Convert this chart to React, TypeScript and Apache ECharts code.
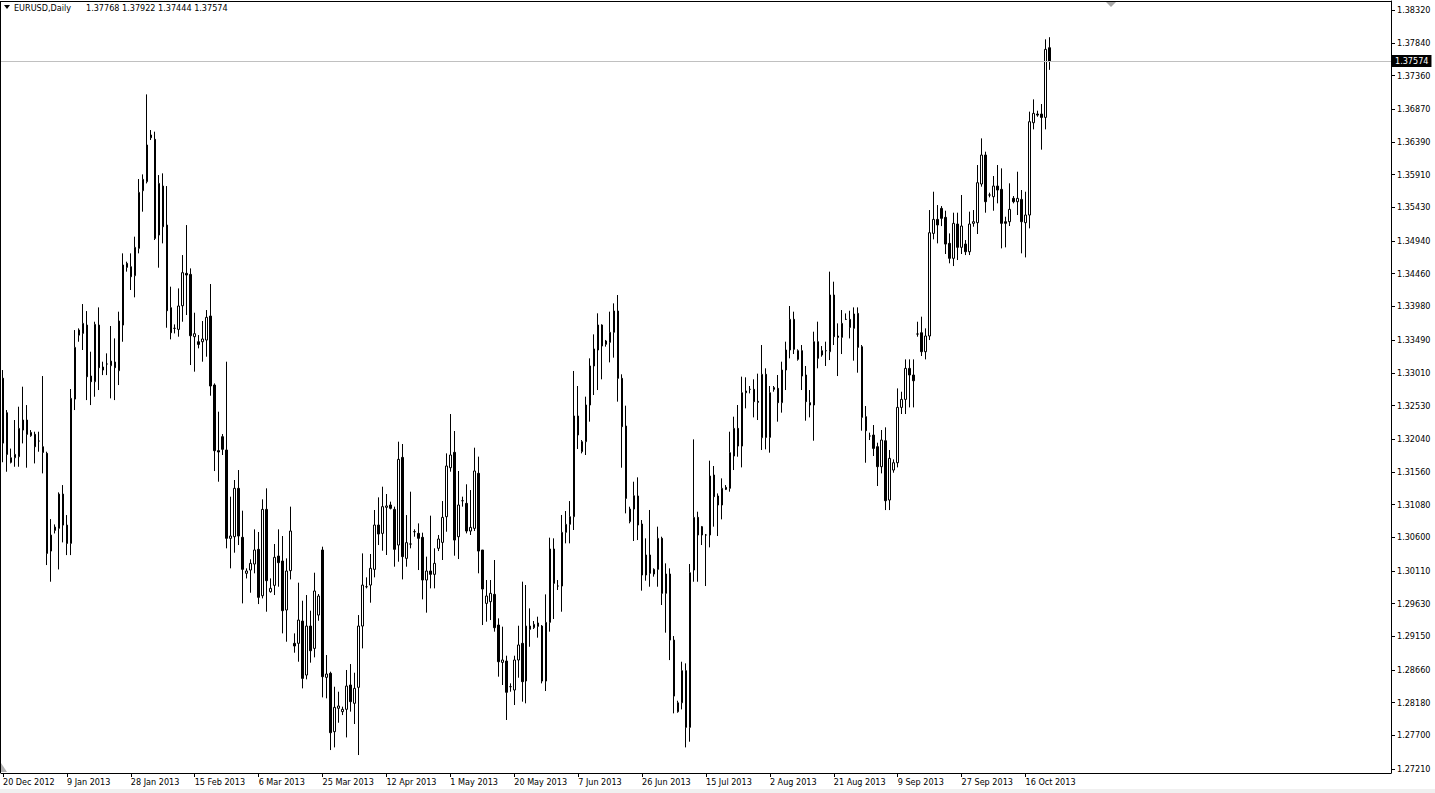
import React, { useEffect, useRef } from "react";
import * as echarts from "echarts";

const symbolName = "EURUSD,Daily";
const headerValues = "1.37768 1.37922 1.37444 1.37574";
const lastPrice = 1.37574;

const dateLabels = [
  "20 Dec 2012", "9 Jan 2013", "28 Jan 2013", "15 Feb 2013", "6 Mar 2013", "25 Mar 2013",
  "12 Apr 2013", "1 May 2013", "20 May 2013", "7 Jun 2013", "26 Jun 2013", "15 Jul 2013",
  "2 Aug 2013", "21 Aug 2013", "9 Sep 2013", "27 Sep 2013", "16 Oct 2013",
];

const yTicks = [
  1.3832, 1.3784, 1.3736, 1.3687, 1.3639, 1.3591, 1.3543, 1.3494, 1.3446, 1.3398, 1.3349, 1.3301,
  1.3253, 1.3204, 1.3156, 1.3108, 1.306, 1.3011, 1.2963, 1.2915, 1.2866, 1.2818, 1.277, 1.2721,
];

const opens = [
  1.3293, 1.32425, 1.31698, 1.31766, 1.31781, 1.32171, 1.32318, 1.32088, 1.32108, 1.3201,
  1.31927, 1.3183, 1.304, 1.30702, 1.30732, 1.31234, 1.3078, 1.30512, 1.32625, 1.3356,
  1.33586, 1.33708, 1.32962, 1.32879, 1.33708, 1.33094, 1.33138, 1.33113, 1.33167, 1.3304,
  1.33708, 1.34611, 1.34562, 1.34431, 1.34831, 1.35675, 1.35807, 1.3649, 1.36427, 1.35026,
  1.35743, 1.35172, 1.33962, 1.3366, 1.33645, 1.33991, 1.34465, 1.3445, 1.33538, 1.33464,
  1.33464, 1.33489, 1.3384, 1.3283, 1.3187, 1.32074, 1.31879, 1.30586, 1.3061, 1.31318,
  1.30601, 1.30074, 1.30122, 1.3021, 1.30425, 1.29746, 1.3101, 1.29805, 1.29898, 1.30327,
  1.30254, 1.29537, 1.30113, 1.29049, 1.29049, 1.29375, 1.28585, 1.29302, 1.28975, 1.29463,
  1.30415, 1.28551, 1.2861, 1.27756, 1.28098, 1.28049, 1.28083, 1.28439, 1.28171, 1.28405,
  1.29302, 1.29878, 1.29902, 1.30132, 1.30781, 1.30659, 1.3104, 1.31074, 1.3101, 1.30488,
  1.31771, 1.30293, 1.30503, 1.30684, 1.30659, 1.30601, 1.29976, 1.30108, 1.30059, 1.3044,
  1.30527, 1.30903, 1.3162, 1.31845, 1.3061, 1.31137, 1.31098, 1.30693, 1.30732, 1.31538,
  1.30415, 1.29634, 1.29659, 1.29766, 1.29317, 1.2877, 1.2879, 1.28415, 1.28366, 1.28805,
  1.29049, 1.28498, 1.29302, 1.29278, 1.29347, 1.29302, 1.28497, 1.29356, 1.3043, 1.29888,
  1.29888, 1.30674, 1.30791, 1.30903, 1.32377, 1.31855, 1.32001, 1.32538, 1.33109, 1.33343,
  1.33709, 1.33426, 1.33455, 1.33602, 1.33914, 1.32928, 1.3223, 1.3083, 1.31015, 1.31206,
  1.30796, 1.30049, 1.30342, 1.30064, 1.30132, 1.30586, 1.29781, 1.30064, 1.29097, 1.28048,
  1.28179, 1.28649, 1.27819, 1.30122, 1.30893, 1.30757, 1.30635, 1.30635, 1.31513, 1.31206,
  1.31074, 1.31332, 1.31318, 1.31791, 1.32196, 1.31937, 1.32743, 1.32767, 1.32767, 1.32592,
  1.32059, 1.32987, 1.32064, 1.32792, 1.32782, 1.32572, 1.3305, 1.33343, 1.33792, 1.33206,
  1.33333, 1.32977, 1.32572, 1.32538, 1.33465, 1.3327, 1.33333, 1.33318, 1.34148, 1.33548,
  1.33528, 1.33791, 1.33791, 1.3366, 1.33879, 1.33391, 1.32367, 1.32084, 1.32098, 1.31928,
  1.31635, 1.32015, 1.31147, 1.31586, 1.31693, 1.32503, 1.3262, 1.33074, 1.32977, 1.33577,
  1.33596, 1.33318, 1.33548, 1.3505, 1.35255, 1.35416, 1.35285, 1.34904, 1.34685, 1.35187,
  1.34846, 1.34894, 1.34782, 1.35197, 1.35207, 1.35773, 1.36197, 1.35612, 1.35587, 1.35743,
  1.35695, 1.35221, 1.35221, 1.35563, 1.35514, 1.35548, 1.35207, 1.35319, 1.3667, 1.36797,
  1.36797, 1.36748, 1.37768,
];

const highs = [
  1.3305, 1.32464, 1.319, 1.32318, 1.32513, 1.32806, 1.32537, 1.32171, 1.32147, 1.32147,
  1.32962, 1.31854, 1.30868, 1.3079, 1.31259, 1.31366, 1.30927, 1.32772, 1.33635, 1.3366,
  1.34016, 1.33913, 1.33318, 1.33757, 1.33967, 1.33172, 1.33294, 1.33694, 1.33513, 1.33904,
  1.34758, 1.34636, 1.34758, 1.35002, 1.35846, 1.35914, 1.37085, 1.36563, 1.36539, 1.35904,
  1.35929, 1.35743, 1.3427, 1.33718, 1.34245, 1.34733, 1.35172, 1.34538, 1.33889, 1.33562,
  1.33767, 1.33928, 1.34309, 1.32854, 1.3244, 1.32113, 1.33172, 1.31196, 1.3144, 1.31586,
  1.30991, 1.30147, 1.30279, 1.30718, 1.30679, 1.31157, 1.31318, 1.3, 1.30503, 1.30718,
  1.3062, 1.30293, 1.3105, 1.29195, 1.29937, 1.29673, 1.29756, 1.29527, 1.30083, 1.29771,
  1.30464, 1.28878, 1.28634, 1.28414, 1.28341, 1.28122, 1.28659, 1.28746, 1.28619, 1.29463,
  1.30366, 1.30015, 1.30357, 1.31001, 1.31186, 1.31342, 1.31235, 1.31123, 1.3105, 1.32001,
  1.31967, 1.30927, 1.31269, 1.30718, 1.30805, 1.30669, 1.30318, 1.30918, 1.3044, 1.30635,
  1.31132, 1.3183, 1.32406, 1.32157, 1.31572, 1.31196, 1.31377, 1.31293, 1.31913, 1.31782,
  1.30415, 1.29976, 1.29976, 1.30269, 1.29415, 1.29293, 1.28868, 1.28463, 1.28868, 1.29307,
  1.29952, 1.29903, 1.29561, 1.29376, 1.29439, 1.29317, 1.29766, 1.30596, 1.30586, 1.29976,
  1.30928, 1.30986, 1.31132, 1.33036, 1.32816, 1.32025, 1.3266, 1.33221, 1.33572, 1.3388,
  1.33719, 1.3349, 1.33904, 1.34026, 1.34148, 1.32987, 1.32528, 1.31049, 1.31415, 1.31479,
  1.30854, 1.30586, 1.31001, 1.30147, 1.30757, 1.3061, 1.3022, 1.30147, 1.29156, 1.28209,
  1.2878, 1.28756, 1.3021, 1.32035, 1.30976, 1.30767, 1.3065, 1.31723, 1.31645, 1.31244,
  1.31464, 1.31366, 1.32147, 1.32367, 1.32538, 1.32953, 1.32943, 1.32816, 1.32914, 1.32997,
  1.33416, 1.33075, 1.32816, 1.32816, 1.32977, 1.33172, 1.33465, 1.33987, 1.33904, 1.33353,
  1.33416, 1.33109, 1.32757, 1.33611, 1.33758, 1.33401, 1.33465, 1.3449, 1.34343, 1.33733,
  1.33928, 1.33879, 1.33918, 1.33967, 1.33967, 1.33416, 1.32523, 1.32133, 1.32245, 1.31986,
  1.32172, 1.32211, 1.31879, 1.31742, 1.32781, 1.32732, 1.33206, 1.33206, 1.33206, 1.33757,
  1.33831, 1.3366, 1.35392, 1.3566, 1.35465, 1.3545, 1.35382, 1.3505, 1.35353, 1.35353,
  1.35612, 1.34953, 1.35368, 1.35392, 1.36051, 1.36441, 1.36246, 1.35646, 1.3589, 1.36051,
  1.36002, 1.35294, 1.35783, 1.35597, 1.35953, 1.35685, 1.3566, 1.36832, 1.37012, 1.36846,
  1.36944, 1.37891, 1.37922,
];

const lows = [
  1.317, 1.31561, 1.31683, 1.31634, 1.31634, 1.31976, 1.3162, 1.32073, 1.31683, 1.31854,
  1.31537, 1.30195, 1.29951, 1.30658, 1.30131, 1.30527, 1.30341, 1.30341, 1.32464, 1.33464,
  1.33343, 1.3261, 1.32537, 1.32659, 1.32757, 1.32976, 1.32976, 1.32635, 1.3261, 1.3283,
  1.33464, 1.3449, 1.34221, 1.34114, 1.34758, 1.35368, 1.35782, 1.36417, 1.34953, 1.34548,
  1.34904, 1.33669, 1.33499, 1.33586, 1.33538, 1.33757, 1.33855, 1.33123, 1.33026, 1.33367,
  1.33172, 1.33245, 1.32674, 1.31571, 1.31415, 1.31806, 1.3044, 1.30147, 1.30376, 1.30488,
  1.29634, 1.29999, 1.2979, 1.30074, 1.29624, 1.29707, 1.29512, 1.2979, 1.29756, 1.29878,
  1.29195, 1.29073, 1.29985, 1.28912, 1.2878, 1.2839, 1.28522, 1.28766, 1.28844, 1.2938,
  1.28258, 1.28244, 1.27487, 1.27526, 1.27887, 1.27999, 1.27672, 1.28049, 1.27868, 1.27414,
  1.28975, 1.29854, 1.29644, 1.30015, 1.30488, 1.30405, 1.30342, 1.3101, 1.30171, 1.30244,
  1.29985, 1.30171, 1.3044, 1.3061, 1.30122, 1.29693, 1.29498, 1.29854, 1.29854, 1.304,
  1.30269, 1.30683, 1.31562, 1.30332, 1.30283, 1.3105, 1.30659, 1.30635, 1.30693, 1.30074,
  1.29317, 1.29366, 1.2939, 1.2922, 1.28561, 1.28439, 1.27927, 1.28341, 1.28146, 1.28546,
  1.28195, 1.28171, 1.28999, 1.29259, 1.29132, 1.28463, 1.28351, 1.2922, 1.29405, 1.2983,
  1.29512, 1.30513, 1.30513, 1.30708, 1.31894, 1.3183, 1.31806, 1.32294, 1.32684, 1.32757,
  1.32914, 1.33392, 1.33162, 1.33231, 1.32587, 1.3162, 1.30952, 1.30806, 1.30547, 1.30561,
  1.2982, 1.29966, 1.29878, 1.30025, 1.29878, 1.2961, 1.29205, 1.28804, 1.28024, 1.28034,
  1.28082, 1.27526, 1.27609, 1.29951, 1.29951, 1.30488, 1.29888, 1.30454, 1.30757, 1.3062,
  1.30864, 1.31293, 1.31269, 1.31586, 1.31781, 1.31625, 1.32489, 1.32708, 1.32357, 1.32318,
  1.31879, 1.31889, 1.3184, 1.32733, 1.32294, 1.32426, 1.32757, 1.33221, 1.33284, 1.33187,
  1.32757, 1.32308, 1.32357, 1.32015, 1.33075, 1.33245, 1.33109, 1.33196, 1.33416, 1.32962,
  1.33284, 1.33782, 1.33513, 1.33187, 1.33011, 1.32162, 1.31693, 1.32025, 1.31791, 1.31352,
  1.31537, 1.31, 1.31, 1.31547, 1.31625, 1.32406, 1.32406, 1.32503, 1.32503, 1.33538,
  1.33255, 1.33206, 1.33489, 1.34963, 1.34904, 1.35157, 1.34748, 1.34612, 1.34572, 1.3466,
  1.34748, 1.34733, 1.34733, 1.35148, 1.35041, 1.35734, 1.35353, 1.35578, 1.35382, 1.3549,
  1.34831, 1.34846, 1.35158, 1.3549, 1.35319, 1.34758, 1.34699, 1.35124, 1.36573, 1.36758,
  1.36276, 1.36573, 1.37444,
];

const closes = [
  1.3198, 1.31815, 1.31766, 1.31815, 1.32196, 1.32318, 1.32108, 1.32137, 1.31927, 1.3201,
  1.31844, 1.30366, 1.30634, 1.30751, 1.31234, 1.3078, 1.30512, 1.32635, 1.33382, 1.33635,
  1.33733, 1.32952, 1.32879, 1.33718, 1.33084, 1.3305, 1.33138, 1.33181, 1.33084, 1.33767,
  1.34587, 1.34553, 1.34416, 1.34846, 1.35651, 1.35841, 1.36344, 1.36451, 1.34977, 1.35782,
  1.35148, 1.33918, 1.33596, 1.3366, 1.33987, 1.34475, 1.34441, 1.33552, 1.33582, 1.33425,
  1.33504, 1.33821, 1.32816, 1.31869, 1.3185, 1.31889, 1.30586, 1.3062, 1.31318, 1.3062,
  1.30132, 1.30108, 1.3022, 1.30415, 1.29722, 1.3101, 1.29966, 1.29854, 1.30308, 1.3023,
  1.29527, 1.30108, 1.30693, 1.2901, 1.2939, 1.28536, 1.29302, 1.28941, 1.29815, 1.29741,
  1.28561, 1.286, 1.27741, 1.28112, 1.28132, 1.28083, 1.28424, 1.28195, 1.2839, 1.29302,
  1.29902, 1.29878, 1.30147, 1.30781, 1.30649, 1.3105, 1.3106, 1.31025, 1.30425, 1.31742,
  1.30318, 1.30523, 1.30503, 1.30684, 1.30586, 1.29976, 1.30108, 1.30059, 1.3022, 1.30576,
  1.30893, 1.31645, 1.31806, 1.30561, 1.31074, 1.31137, 1.30693, 1.30747, 1.31572, 1.304,
  1.29844, 1.29742, 1.29781, 1.29278, 1.2878, 1.28805, 1.28332, 1.28415, 1.28805, 1.29025,
  1.28488, 1.29302, 1.29254, 1.29327, 1.29298, 1.28497, 1.29356, 1.3043, 1.29927, 1.29888,
  1.30674, 1.30791, 1.30903, 1.32377, 1.32099, 1.32001, 1.32538, 1.33109, 1.33358, 1.33709,
  1.33402, 1.33475, 1.33602, 1.33914, 1.32928, 1.32221, 1.31171, 1.31015, 1.3121, 1.30781,
  1.30049, 1.30342, 1.30074, 1.30132, 1.30586, 1.29781, 1.30064, 1.29097, 1.28277, 1.28179,
  1.28649, 1.27819, 1.30083, 1.30893, 1.30635, 1.30635, 1.30635, 1.31498, 1.31196, 1.31074,
  1.31318, 1.31303, 1.3184, 1.32196, 1.31937, 1.32718, 1.32718, 1.32767, 1.32587, 1.32577,
  1.32987, 1.32064, 1.32718, 1.32767, 1.32572, 1.3305, 1.33343, 1.33792, 1.33353, 1.33333,
  1.32962, 1.32587, 1.32538, 1.33465, 1.33221, 1.33333, 1.33333, 1.34148, 1.33538, 1.33528,
  1.33733, 1.33791, 1.33674, 1.3387, 1.33382, 1.32357, 1.32162, 1.32084, 1.31903, 1.31635,
  1.32025, 1.31137, 1.31757, 1.31693, 1.32503, 1.3262, 1.33074, 1.32977, 1.32893, 1.33577,
  1.33318, 1.33548, 1.3506, 1.35255, 1.35173, 1.3527, 1.34894, 1.34685, 1.35197, 1.34846,
  1.35158, 1.34782, 1.35187, 1.35221, 1.35792, 1.36197, 1.35514, 1.35612, 1.35743, 1.35685,
  1.35197, 1.35197, 1.35402, 1.35514, 1.35563, 1.35221, 1.35319, 1.36685, 1.36807, 1.36782,
  1.36748, 1.37744, 1.37574,
];

const FONT = "'DejaVu Sans Condensed', 'DejaVu Sans', sans-serif";
const SLOTS = 348;
const LABEL_STEP = 16;

export default function App() {
  const ref = useRef<HTMLDivElement>(null);

  useEffect(() => {
    if (!ref.current) return;
    const chart = echarts.init(ref.current, null, { renderer: "svg" });
    const isLabel = (i: number) => i % LABEL_STEP === 0 && i / LABEL_STEP < dateLabels.length;
    const cats = Array.from({ length: SLOTS }, (_, i) =>
      isLabel(i) ? dateLabels[i / LABEL_STEP] : "bar" + i
    );
    const data = opens.map((o, i) => [o, closes[i], lows[i], highs[i]]);

    chart.setOption({
      animation: false,
      backgroundColor: "#ffffff",
      grid: { left: -1, right: 44, top: 1, bottom: 20, containLabel: false },
      xAxis: {
        type: "category",
        data: cats,
        boundaryGap: true,
        axisLine: { show: true, lineStyle: { color: "#000", width: 1 } },
        axisTick: {
          show: true,
          alignWithLabel: true,
          length: 4,
          interval: (i: number) => isLabel(i),
          lineStyle: { color: "#000" },
        },
        axisLabel: {
          interval: (i: number) => isLabel(i),
          align: "left",
          margin: 4,
          color: "#000",
          fontSize: 9,
          fontFamily: FONT,
        },
        splitLine: { show: false },
      },
      yAxis: {
        type: "value",
        position: "right",
        min: 1.27151,
        max: 1.38452,
        axisLine: { show: true, lineStyle: { color: "#000", width: 1 } },
        axisTick: { show: true, length: 4, customValues: yTicks, lineStyle: { color: "#000" } },
        axisLabel: {
          customValues: yTicks,
          formatter: (v: number) => v.toFixed(5),
          margin: 6,
          color: "#000",
          fontSize: 9,
          fontFamily: FONT,
        },
        splitLine: { show: false },
      },
      series: [
        {
          type: "line",
          data: [],
          silent: true,
          showSymbol: false,
          z: 1,
          markLine: {
            silent: true,
            symbol: "none",
            precision: 5,
            lineStyle: { color: "#c0c0c0", type: "solid", width: 1 },
            label: {
              show: true,
              position: "end",
              distance: 1,
              formatter: () => lastPrice.toFixed(5),
              backgroundColor: "#000",
              color: "#fff",
              padding: [2, 3, 1, 3],
              fontSize: 9,
              fontFamily: FONT,
            },
            data: [{ yAxis: lastPrice }],
          },
        },
        {
          type: "candlestick",
          data,
          barWidth: 2,
          z: 3,
          itemStyle: {
            color: "#ffffff",
            color0: "#000000",
            borderColor: "#000000",
            borderColor0: "#000000",
            borderColorDoji: "#000000",
            borderWidth: 1,
          },
        },
      ],
      graphic: [
        { type: "line", shape: { x1: 0, y1: 1.5, x2: 1391, y2: 1.5 }, style: { stroke: "#000", lineWidth: 1 }, silent: true },
        { type: "line", shape: { x1: 0.5, y1: 1, x2: 0.5, y2: 773 }, style: { stroke: "#000", lineWidth: 1 }, silent: true },
        { type: "polygon", shape: { points: [[4, 5], [10, 5], [7, 9]] }, style: { fill: "#000" }, silent: true },
        {
          type: "text", x: 14, y: 8,
          style: { text: symbolName, fill: "#000", font: `9px ${FONT}`, verticalAlign: "middle", align: "left" },
          silent: true,
        },
        {
          type: "text", x: 86, y: 8,
          style: { text: headerValues, fill: "#000", font: `9px ${FONT}`, verticalAlign: "middle", align: "left" },
          silent: true,
        },
        { type: "polygon", shape: { points: [[1106, 2], [1116, 2], [1111, 7]] }, style: { fill: "#a8a8a8" }, silent: true },
        { type: "polygon", shape: { points: [[1, 763], [1, 772], [7, 772]] }, style: { fill: "#b0b0b0" }, silent: true },
        { type: "rect", shape: { x: 0, y: 789, width: 1435, height: 4 }, style: { fill: "#f0f0f0" }, silent: true },
      ],
    });
    return () => chart.dispose();
  }, []);

  return (
    <div
      ref={ref}
      style={{ position: "fixed", left: 0, top: 0, width: 1435, height: 793, background: "#fff" }}
    />
  );
}
